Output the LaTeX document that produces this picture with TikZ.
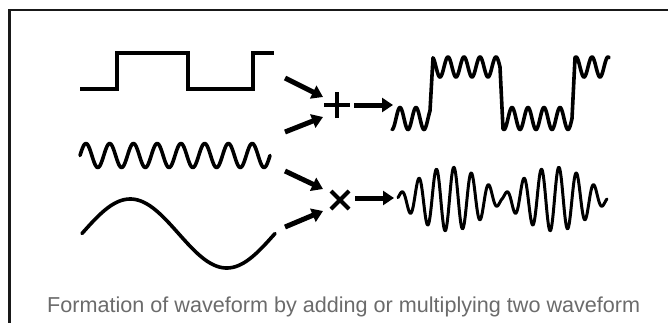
\documentclass[tikz,border=0pt]{standalone}
\usepackage{fontspec}
\setmainfont{Liberation Sans}
\usetikzlibrary{arrows.meta}
\definecolor{captiongray}{HTML}{6B6B6B}
\begin{document}
\begin{tikzpicture}[x=1pt,y=-1pt,
  wave/.style={line width=3.6pt,black,line join=round,line cap=round},
  fatarrow/.style={line width=5pt,black,-{Triangle[length=11pt,width=14pt]}},
  opsign/.style={line width=3.4pt,black},
  caption/.style={text=captiongray,font=\fontsize{21.6}{24}\selectfont,inner sep=0pt,anchor=base west}]
\useasboundingbox (0,0) rectangle (668,322);
\begin{scope}
\clip (0,0) rectangle (668,322);
% frame
\draw[line width=2.6pt,black!90] (9.5,340) -- (9.5,10) -- (690,10);
\end{scope}

% inputs
\draw[wave,line cap=butt,line join=miter] (80,89) -- (117,89) -- (117,53) -- (188,53) -- (188,89) -- (253,89) -- (253,53) -- (274,53);
\draw[wave] plot[domain=80:270,samples=240] (\x,{155.5-12*sin((\x-80)*15.1579)});
\draw[wave] plot[domain=82:275,samples=160] (\x,{233.5-34.5*sin((\x-82)*1.86528)});

% operator positions
\coordinate (plus) at (337,105);
\coordinate (times) at (340,200);
\coordinate (a1s) at (285,78);  \coordinate (a1e) at (323,97);
\coordinate (a2s) at (285,132); \coordinate (a2e) at (323,117);
\coordinate (a3s) at (354,105); \coordinate (a3e) at (393,105);
\coordinate (b1s) at (285,171); \coordinate (b1e) at (323,189);
\coordinate (b2s) at (285,227); \coordinate (b2e) at (323,211);
\coordinate (b3s) at (355,198); \coordinate (b3e) at (394,198);

\draw[fatarrow] (a1s) -- (a1e);
\draw[fatarrow] (a2s) -- (a2e);
\draw[fatarrow] (a3s) -- (a3e);
\draw[fatarrow] (b1s) -- (b1e);
\draw[fatarrow] (b2s) -- (b2e);
\draw[fatarrow] (b3s) -- (b3e);

\draw[opsign] ([xshift=-13pt]plus) -- ([xshift=13pt]plus);
\draw[opsign] ([yshift=-13pt]plus) -- ([yshift=13pt]plus);
\draw[opsign,line width=4pt] ([shift={(-9pt,-9pt)}]times) -- ([shift={(9pt,9pt)}]times);
\draw[opsign,line width=4pt] ([shift={(-9pt,9pt)}]times) -- ([shift={(9pt,-9pt)}]times);

% sum output
\draw[wave] plot[domain=392:430,samples=80] (\x,{118.5+11*cos((\x-392)*22.5)})
  -- plot[domain=433:500,samples=140] (\x,{67+10*cos((\x-392)*22.5)})
  -- plot[domain=503:572,samples=140] (\x,{118.5+11*cos((\x-392)*22.5)})
  -- plot[domain=575:609,samples=70] (\x,{67+10*cos((\x-392)*22.5)});

% product output
\draw[wave,line width=3pt] plot[domain=398:607,samples=500] (\x,{199-(3+29*abs(sin((\x-397)*1.71429)))*sin((\x-397)*20.5714)});

% caption
\node[caption] (cap) at (47,312) {Formation of waveform by adding or multiplying two waveform};
\end{tikzpicture}
\end{document}
